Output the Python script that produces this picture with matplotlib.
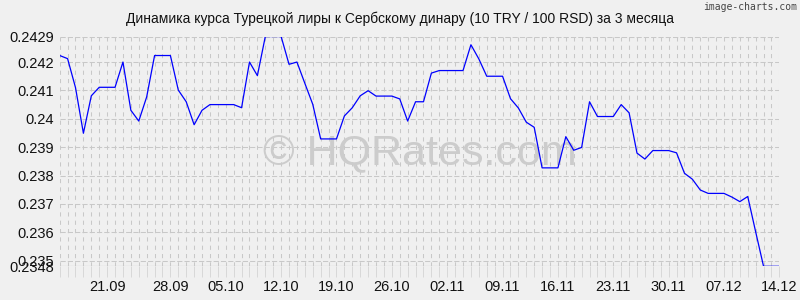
import matplotlib
matplotlib.use("Agg")
import matplotlib.pyplot as plt
import numpy as np

plt.rcParams["font.family"] = ["Liberation Sans", "DejaVu Sans"]

# TRY/RSD rate, one value per point
rate = [
    0.24223, 0.24212, 0.2411, 0.23949, 0.24081, 0.24111, 0.24111, 0.24111,
    0.24200, 0.2403, 0.23992, 0.24077, 0.24223, 0.24223, 0.24223, 0.24101,
    0.2406, 0.23979, 0.2403, 0.2405, 0.2405, 0.2405, 0.2405, 0.24039,
    0.2420, 0.24152, 0.2429, 0.2429, 0.2429, 0.24192, 0.2420, 0.24125,
    0.24051, 0.23929, 0.23929, 0.23929, 0.2401, 0.24039, 0.24081, 0.24099,
    0.2408, 0.2408, 0.2408, 0.2407, 0.23992, 0.2406, 0.2406, 0.24161,
    0.2417, 0.2417, 0.2417, 0.2417, 0.24261, 0.24211, 0.2415, 0.2415,
    0.2415, 0.24071, 0.24038, 0.23988, 0.2397, 0.23827, 0.23827, 0.23827,
    0.23937, 0.23889, 0.23899, 0.2406, 0.24008, 0.24008, 0.24008, 0.2405,
    0.24021, 0.23879, 0.23858, 0.23888, 0.23888, 0.23888, 0.2388, 0.23808,
    0.23787, 0.23749, 0.23737, 0.23737, 0.23737, 0.23724, 0.23708, 0.23726,
    0.23602, 0.2348, 0.2348, 0.2348,
]

date_ticks = [6, 14, 21, 28, 35, 42, 49, 56, 63, 70, 77, 84, 91]
date_labels = ["21.09", "28.09", "05.10", "12.10", "19.10", "26.10", "02.11",
               "09.11", "16.11", "23.11", "30.11", "07.12", "14.12"]
y_ticks = [0.2348, 0.235, 0.236, 0.237, 0.238, 0.239, 0.24, 0.241, 0.242, 0.2429]
y_labels = ["0.2348", "0.235", "0.236", "0.237", "0.238", "0.239", "0.24",
            "0.241", "0.242", "0.2429"]

bg = "#f0f0f0"
grid_color = "#c8c8c8"

fig = plt.figure(figsize=(8, 3), dpi=100, facecolor=bg)
ax = fig.add_axes([0.0746, 0.1123, 0.8996, 0.766])
ax.set_facecolor(bg)

x = np.arange(len(rate))
ax.plot(x, rate, color="#0000ff", linewidth=0.9, zorder=3)

ax.set_xlim(0, len(rate) - 1)
ax.set_ylim(y_ticks[0], y_ticks[-1])

# daily vertical grid, dashed
ax.set_xticks(x, minor=True)
ax.grid(True, which="minor", axis="x", color=grid_color, linewidth=0.75,
        linestyle=(0, (4, 4)))
ax.grid(True, which="major", axis="x", color=grid_color, linewidth=0.75,
        linestyle=(0, (4, 4)))
ax.grid(True, which="major", axis="y", color=grid_color, linewidth=0.75,
        linestyle=(0, (5, 2)))

ax.set_xticks(date_ticks)
ax.set_xticklabels(date_labels, fontsize=10.5, color="#111111")
ax.set_yticks(y_ticks)
ax.set_yticklabels(y_labels, fontsize=10.5, color="#111111")
ax.tick_params(axis="x", which="both", length=8, width=0.7, color="#d8d8d8", pad=2)
ax.tick_params(axis="y", length=0, pad=4)

for s in ax.spines.values():
    s.set_visible(False)
ax.axhline(y_ticks[0], color="#b8b8b8", linewidth=0.8, zorder=1)

fig.text(0.5, 0.938, "Динамика курса Турецкой лиры к Сербскому динару (10 TRY / 100 RSD) за 3 месяца",
         ha="center", va="center", fontsize=10, color="#111111")
fig.text(0.996, 0.975, "image-charts.com", ha="right", va="center",
         fontsize=7, color="#444444", family="DejaVu Sans Mono")
ax.text(0.5, 0.49, "© HQRates.com", transform=ax.transAxes, ha="center", va="center",
        fontsize=31, color="#cccccc", zorder=2)

fig.savefig("out.png", dpi=100, facecolor=bg)
